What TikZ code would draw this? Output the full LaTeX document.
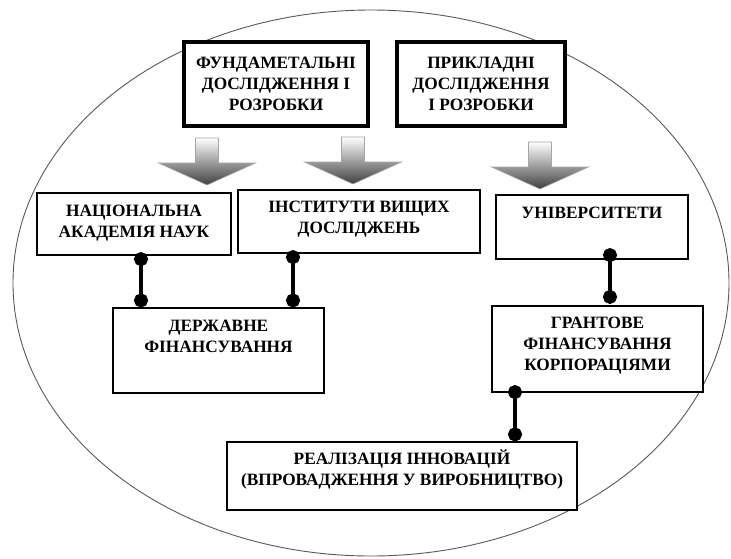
\documentclass[tikz,border=0pt]{standalone}
\usepackage{fontspec}
\setmainfont{Liberation Serif}
\usetikzlibrary{positioning,arrows.meta}
\newcommand\diagfont{\fontsize{17.3}{21}\selectfont\bfseries}

\begin{document}
\begin{tikzpicture}[x=1pt,y=-1pt,
  oval/.style={draw=black!65,line width=0.9pt,fill=white},
  box/.style={draw,line width=1.2pt,fill=white,inner sep=0pt},
  headbox/.style={draw,line width=3.6pt,fill=white,inner sep=0pt,align=center,font=\diagfont},
  txt/.style={align=center,inner sep=0pt,font=\diagfont},
  link/.style={line width=4pt,{Circle[length=14pt]}-{Circle[length=14pt]}},
  arrowfill/.style={draw=gray!70,line width=0.6pt,top color=white,bottom color=black!75},
  down arrow/.pic={\path[arrowfill] (-11.5,0) -- (11.5,0) -- (11.5,25) -- (48.5,25) -- (0,47) -- (-48.5,25) -- (-11.5,25) -- cycle;}]
  \useasboundingbox (0,0) rectangle (731,558);
  %background
  \draw[oval] (371,283) ellipse [x radius=358pt, y radius=273pt];
  %top
  \node[headbox,minimum width=184pt,minimum height=84pt] (fund) at (276,84) {ФУНДАМЕТАЛЬНІ\\ДОСЛІДЖЕННЯ І\\РОЗРОБКИ};
  \node[headbox,minimum width=168pt,minimum height=84pt] (prikl) at (481,84) {ПРИКЛАДНІ\\ДОСЛІДЖЕННЯ\\І РОЗРОБКИ};
  \pic at (207,138) {down arrow};
  \pic at (353,137) {down arrow};
  \pic at (540,142) {down arrow};
  %middle
  \node[box,minimum width=194pt,minimum height=62pt] (nan) at (134,224) {};
  \node[txt,below=12pt of nan.north] (nan-t) {НАЦІОНАЛЬНА\\АКАДЕМІЯ НАУК};
  \node[box,minimum width=242pt,minimum height=63pt] (inst) at (359,221.5) {};
  \node[txt,below=11.5pt of inst.north] (inst-t) {ІНСТИТУТИ ВИЩИХ\\ДОСЛІДЖЕНЬ};
  \node[box,minimum width=192pt,minimum height=64pt] (univ) at (592,227) {};
  \node[txt,below=12pt of univ.north] (univ-t) {УНІВЕРСИТЕТИ};
  %funding
  \node[box,minimum width=211pt,minimum height=85pt] (derzh) at (218.5,350.5) {};
  \node[txt,below=12pt of derzh.north] (derzh-t) {ДЕРЖАВНЕ\\ФІНАНСУВАННЯ};
  \node[box,minimum width=211pt,minimum height=86pt] (grant) at (597.5,349) {};
  \node[txt,below=11.5pt of grant.north] (grant-t) {ГРАНТОВЕ\\ФІНАНСУВАННЯ\\КОРПОРАЦІЯМИ};
  %bottom
  \node[box,minimum width=350pt,minimum height=68pt] (real) at (402,476) {};
  \node[txt,below=8pt of real.north] (real-t) {РЕАЛІЗАЦІЯ ІННОВАЦІЙ\\(ВПРОВАДЖЕННЯ У ВИРОБНИЦТВО)};
  %links
  \draw[link] ([xshift=7pt,yshift=3.5pt]nan.south) -- ([xshift=7pt]nan.south |- derzh.north);
  \draw[link] ([xshift=-66pt,yshift=3.5pt]inst.south) -- ([xshift=-66pt]inst.south |- derzh.north);
  \draw[link] ([xshift=18pt,yshift=11.5pt]univ.south) -- ([xshift=18pt,yshift=1.5pt]univ.south |- grant.north);
  \draw[link] ([xshift=-82.5pt,yshift=7.5pt]grant.south) -- ([xshift=-82.5pt]grant.south |- real.north);
\end{tikzpicture}
\end{document}
